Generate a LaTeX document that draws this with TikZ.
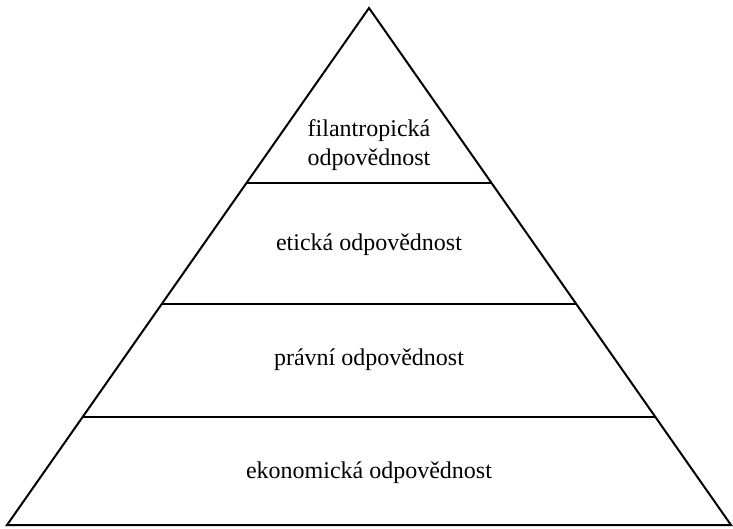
\documentclass[tikz,border=0pt]{standalone}
\usepackage{fontspec}
\setmainfont{Liberation Serif}
\usetikzlibrary{calc}

\begin{document}
\begin{tikzpicture}[
    x=1pt, y=-1pt,
    % Pyramid outline
    edge/.style={draw=black, line width=2pt, line join=miter},
    % Tier dividing lines
    tier/.style={draw=black, line width=2pt},
    % Tier labels
    tierlabel/.style={font=\rmfamily\fontsize{24}{29}\selectfont, align=center, text=black},
]
\useasboundingbox (0,0) rectangle (733,528);

% ===== PYRAMID =====
\coordinate (apex) at (369, 8);
\coordinate (base_l) at (7, 525);
\coordinate (base_r) at (731, 525);

\draw[edge] (apex) -- (base_l) -- (base_r) -- cycle;

% ===== TIERS =====
\draw[tier] ($(apex)!{175/517}!(base_l)$) -- ($(apex)!{175/517}!(base_r)$);
\draw[tier] ($(apex)!{296/517}!(base_l)$) -- ($(apex)!{296/517}!(base_r)$);
\draw[tier] ($(apex)!{409/517}!(base_l)$) -- ($(apex)!{409/517}!(base_r)$);

% ===== LABELS =====
\node[tierlabel] (phil) at (369, 145) {filantropická\\odpovědnost};
\node[tierlabel] (ethic) at (369, 245) {etická odpovědnost};
\node[tierlabel] (legal) at (369, 360) {právní odpovědnost};
\node[tierlabel] (econ) at (369, 473) {ekonomická odpovědnost};

\end{tikzpicture}
\end{document}
